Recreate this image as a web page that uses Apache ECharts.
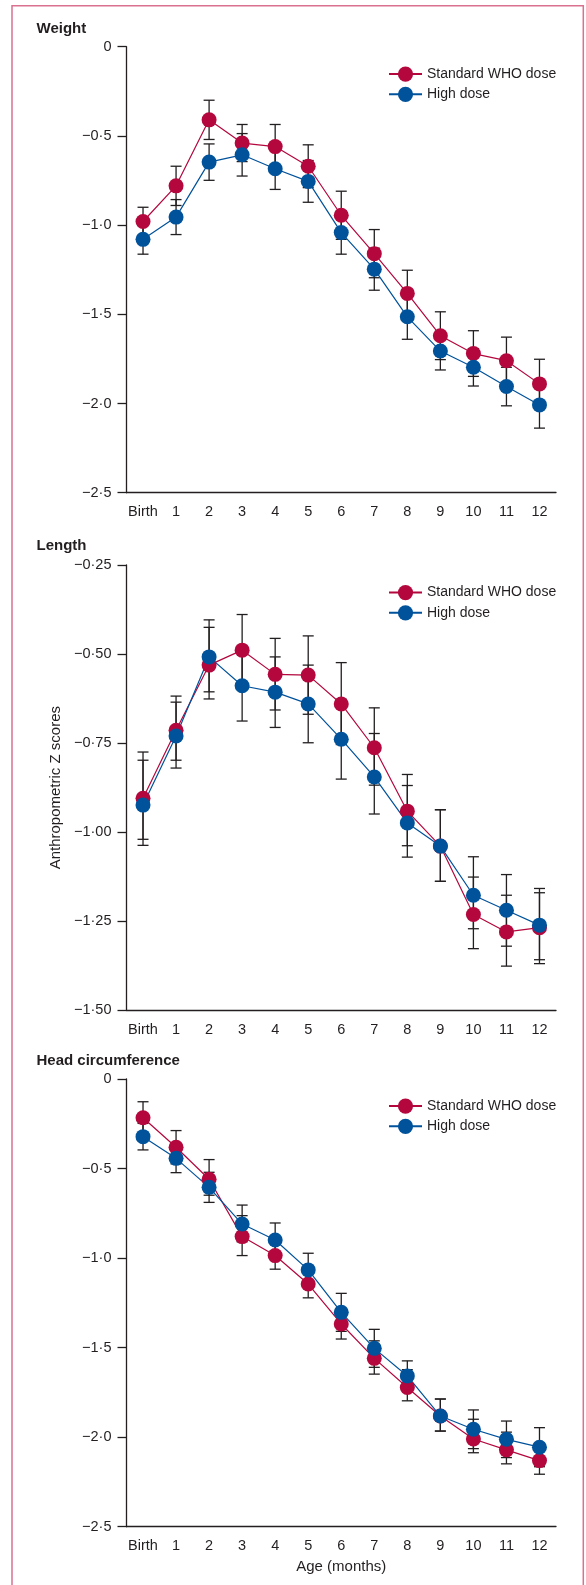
<!DOCTYPE html>
<html><head><meta charset="utf-8">
<script src="https://cdn.jsdelivr.net/npm/echarts@6/dist/echarts.min.js"></script>
<style>html,body{margin:0;padding:0;background:#fff}#c{width:586px;height:1585px}</style>
</head><body><div id="c"></div>
<script>
// ---------------- data ----------------
const categories = ['Birth','1','2','3','4','5','6','7','8','9','10','11','12'];
const seriesNames = ['Standard WHO dose','High dose'];
const panelTitles = ['Weight','Length','Head circumference'];
const xAxisName = 'Age (months)';
const yAxisName = 'Anthropometric Z scores';

const weightTickLabels = ['0','\u22120\u00b75','\u22121\u00b70','\u22121\u00b75','\u22122\u00b70','\u22122\u00b75'];
const lengthTickLabels = ['\u22120\u00b725','\u22120\u00b750','\u22120\u00b775','\u22121\u00b700','\u22121\u00b725','\u22121\u00b750'];
const headTickLabels   = ['0','\u22120\u00b75','\u22121\u00b70','\u22121\u00b75','\u22122\u00b70','\u22122\u00b75'];

// Weight
const weightStdMean  = [-0.98,-0.78,-0.41,-0.54,-0.56,-0.67,-0.945,-1.16,-1.383,-1.62,-1.72,-1.76,-1.89];
const weightStdHi    = [-0.90,-0.67,-0.30,-0.436,-0.436,-0.55,-0.81,-1.025,-1.253,-1.486,-1.592,-1.628,-1.752];
const weightStdLo    = [-1.06,-0.89,-0.52,-0.644,-0.684,-0.79,-1.08,-1.295,-1.513,-1.754,-1.848,-1.892,-2.028];
const weightHighMean = [-1.08,-0.955,-0.647,-0.606,-0.684,-0.755,-1.042,-1.247,-1.514,-1.706,-1.797,-1.905,-2.008];
const weightHighHi   = [-1.00,-0.857,-0.545,-0.487,-0.568,-0.638,-0.921,-1.129,-1.388,-1.60,-1.692,-1.797,-1.878];
const weightHighLo   = [-1.163,-1.053,-0.749,-0.725,-0.80,-0.872,-1.163,-1.365,-1.64,-1.812,-1.902,-2.013,-2.138];

// Length
const lengthStdMean  = [-0.905,-0.714,-0.531,-0.489,-0.557,-0.559,-0.640,-0.763,-0.941,-1.039,-1.231,-1.280,-1.268];
const lengthStdHi    = [-0.775,-0.618,-0.425,-0.389,-0.456,-0.449,-0.524,-0.651,-0.838,-0.937,-1.126,-1.177,-1.158];
const lengthStdLo    = [-1.037,-0.798,-0.626,-0.590,-0.657,-0.669,-0.754,-0.868,-1.038,-1.138,-1.327,-1.376,-1.369];
const lengthHighMean = [-0.924,-0.730,-0.508,-0.589,-0.607,-0.640,-0.739,-0.845,-0.974,-1.039,-1.177,-1.219,-1.261];
const lengthHighHi   = [-0.798,-0.635,-0.404,-0.491,-0.508,-0.531,-0.627,-0.723,-0.869,-0.937,-1.069,-1.119,-1.170];
const lengthHighLo   = [-1.020,-0.820,-0.606,-0.688,-0.706,-0.749,-0.851,-0.949,-1.070,-1.138,-1.271,-1.320,-1.358];

// Head circumference
const headStdMean  = [-0.216,-0.381,-0.560,-0.880,-0.986,-1.145,-1.368,-1.560,-1.723,-1.882,-2.010,-2.071,-2.131];
const headStdHi    = [-0.127,-0.288,-0.450,-0.763,-0.910,-1.068,-1.284,-1.462,-1.623,-1.787,-1.900,-1.972,-2.055];
const headStdLo    = [-0.305,-0.474,-0.649,-0.986,-1.062,-1.222,-1.452,-1.648,-1.797,-1.966,-2.087,-2.149,-2.207];
const headHighMean = [-0.322,-0.443,-0.605,-0.810,-0.899,-1.066,-1.303,-1.504,-1.658,-1.882,-1.956,-2.012,-2.056];
const headHighHi   = [-0.248,-0.363,-0.521,-0.704,-0.804,-0.973,-1.197,-1.398,-1.574,-1.787,-1.848,-1.910,-1.947];
const headHighLo   = [-0.396,-0.523,-0.689,-0.909,-0.994,-1.159,-1.409,-1.610,-1.742,-1.966,-2.064,-2.114,-2.165];

// ---------------- layout / style ----------------
const FONT = '"Liberation Sans", Arial, sans-serif';
const INK = '#231f20';
const RED = '#b3073d';
const BLUE = '#00529b';

const panels = [
  {title: panelTitles[0], top: 46.7, height: 446, min: -2.5, max: 0, interval: 0.5, ticks: weightTickLabels,
   std: [weightStdMean, weightStdLo, weightStdHi], high: [weightHighMean, weightHighLo, weightHighHi],
   titleTop: 21, legendTop: 66.5},
  {title: panelTitles[1], top: 565, height: 445.3, min: -1.5, max: -0.25, interval: 0.25, ticks: lengthTickLabels,
   std: [lengthStdMean, lengthStdLo, lengthStdHi], high: [lengthHighMean, lengthHighLo, lengthHighHi],
   titleTop: 538.5, legendTop: 585},
  {title: panelTitles[2], top: 1079, height: 447.7, min: -2.5, max: 0, interval: 0.5, ticks: headTickLabels,
   std: [headStdMean, headStdLo, headStdHi], high: [headHighMean, headHighLo, headHighHi],
   titleTop: 1053.5, legendTop: 1098.5}
];

function errRender(params, api) {
  const i = api.value(0), lo = api.value(1), hi = api.value(2);
  const a = api.coord([i, lo]);
  const b = api.coord([i, hi]);
  const w = 5.5;
  const st = {stroke: INK, lineWidth: 1.3};
  return {type: 'group', children: [
    {type: 'line', shape: {x1: a[0], y1: a[1], x2: b[0], y2: b[1]}, style: st},
    {type: 'line', shape: {x1: a[0] - w, y1: a[1], x2: a[0] + w, y2: a[1]}, style: st},
    {type: 'line', shape: {x1: b[0] - w, y1: b[1], x2: b[0] + w, y2: b[1]}, style: st}
  ]};
}

const grid = [], xAxis = [], yAxis = [], series = [], legend = [], graphic = [];

graphic.push({type: 'rect', shape: {x: 12, y: 5.7, width: 571.3, height: 1640}, style: {stroke: '#d9718f', fill: 'none', lineWidth: 1.5}, silent: true, z: 0});

panels.forEach((p, k) => {
  grid.push({left: 126.5, width: 429.5, top: p.top, height: p.height});
  xAxis.push({
    type: 'category', gridIndex: k, data: categories, boundaryGap: true,
    axisLine: {onZero: false, lineStyle: {color: INK, width: 1.3}},
    axisTick: {alignWithLabel: true, length: 9, lineStyle: {color: INK, width: 1.3}},
    axisLabel: {color: INK, fontSize: 14.5, fontFamily: FONT, margin: 12, interval: 0},
    splitLine: {show: false},
    name: k === 2 ? xAxisName : '', nameLocation: 'middle', nameGap: 33,
    nameTextStyle: {color: INK, fontSize: 15, fontFamily: FONT}
  });
  yAxis.push({
    type: 'value', gridIndex: k, min: p.min, max: p.max, interval: p.interval,
    axisLine: {show: true, onZero: false, lineStyle: {color: INK, width: 1.3}},
    axisTick: {show: true, length: 9, lineStyle: {color: INK, width: 1.3}},
    axisLabel: {color: INK, fontSize: 14.5, fontFamily: FONT, margin: 15,
      formatter: (v) => p.ticks[Math.round((p.max - v) / p.interval)]},
    splitLine: {show: false},
    name: k === 1 ? yAxisName : '', nameLocation: 'middle', nameGap: 55,
    nameTextStyle: {color: INK, fontSize: 15, fontFamily: FONT}
  });
  [[p.std, RED, seriesNames[0]], [p.high, BLUE, seriesNames[1]]].forEach(([arr, col, nm]) => {
    series.push({
      type: 'custom', xAxisIndex: k, yAxisIndex: k, renderItem: errRender, z: 1, silent: true,
      encode: {x: 0, y: [1, 2]},
      data: categories.map((c, i) => [i, arr[1][i], arr[2][i]])
    });
  });
  [[p.std, RED, seriesNames[0]], [p.high, BLUE, seriesNames[1]]].forEach(([arr, col, nm]) => {
    series.push({
      type: 'line', name: nm, xAxisIndex: k, yAxisIndex: k, z: 3,
      data: arr[0], symbol: 'circle', symbolSize: 15, showSymbol: true,
      itemStyle: {color: col}, lineStyle: {color: col, width: 1.2}
    });
  });
  legend.push({
    data: seriesNames, orient: 'vertical', left: 388, top: p.legendTop, itemWidth: 33, itemHeight: 19,
    itemGap: 5, selectedMode: false, padding: 0,
    textStyle: {color: INK, fontSize: 14, fontFamily: FONT}
  });
  graphic.push({type: 'text', left: 36.5, top: p.titleTop,
    style: {text: p.title, font: 'bold 15px ' + FONT, fill: INK}});
});

const chart = echarts.init(document.getElementById('c'), null, {renderer: 'canvas'});
chart.setOption({animation: false, backgroundColor: '#fff', grid, xAxis, yAxis, series, legend, graphic});
</script>
</body></html>
